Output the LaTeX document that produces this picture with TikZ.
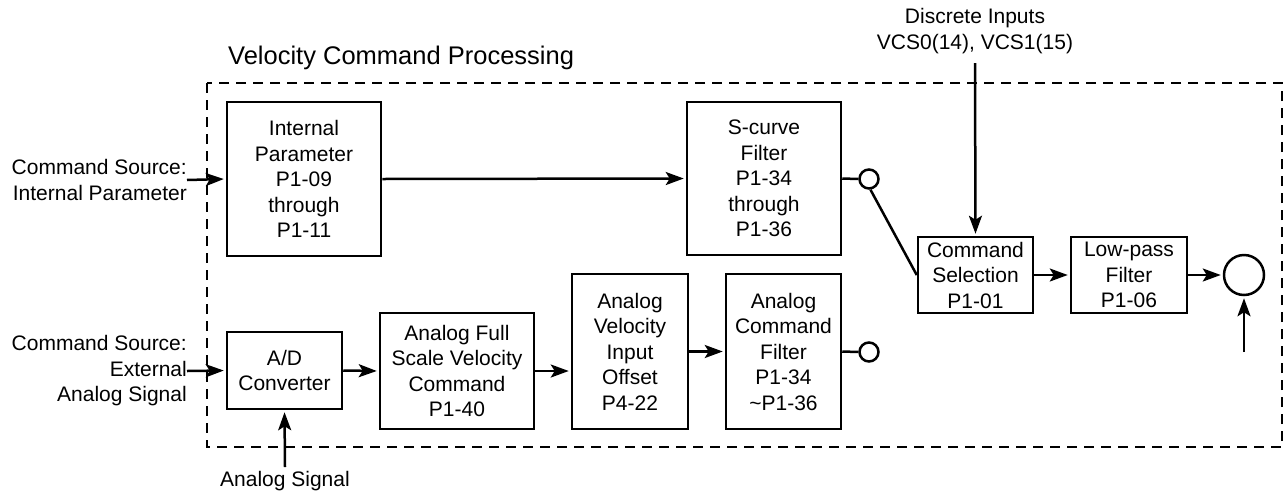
\documentclass[tikz,border=0pt]{standalone}
\usepackage{fontspec}
\setmainfont{Liberation Sans}
\usetikzlibrary{arrows.meta}
\begin{document}
\begin{tikzpicture}[x=1pt,y=-1pt,
  every node/.style={font=\fontsize{21}{25.5}\selectfont, inner sep=0pt},
  blk/.style={draw, line width=2.5pt, align=center},
  conn/.style={line width=2.5pt},
  arr/.style={line width=2.5pt, shorten >=2pt, -{Stealth[length=18pt,width=13pt,inset=4pt]}},
  sw/.style={draw, circle, line width=2.5pt, minimum size=19pt},
  frame/.style={line width=2.2pt, dash pattern=on 10pt off 7pt}]
\useasboundingbox (0,0) rectangle (1286,491);
% frame
\draw[frame] (207,83) rectangle (1282,447);
\node[anchor=west, font=\fontsize{25.5}{30}\selectfont] (title) at (228,58) {Velocity Command Processing};
% blocks
\node[blk, minimum width=154pt, minimum height=154pt] (ip) at (304,179) {Internal\\Parameter\\P1-09\\through\\P1-11};
\node[blk, minimum width=154pt, minimum height=153pt] (sc) at (764,178.5) {S-curve\\Filter\\P1-34\\through\\P1-36};
\node[blk, minimum width=115pt, minimum height=77pt] (ad) at (284.5,370.5) {A/D\\Converter};
\node[blk, minimum width=154pt, minimum height=116pt] (fs) at (457,371) {Analog Full\\Scale Velocity\\Command\\P1-40};
\node[blk, minimum width=116pt, minimum height=155pt] (off) at (630,351.5) {Analog\\Velocity\\Input\\Offset\\P4-22};
\node[blk, minimum width=115pt, minimum height=155pt] (cf) at (783.5,351.5) {Analog\\Command\\Filter\\P1-34\\\textasciitilde P1-36};
\node[blk, minimum width=115pt, minimum height=76pt] (cs) at (975.5,275) {Command\\Selection\\P1-01};
\node[blk, minimum width=116pt, minimum height=76pt] (lp) at (1129,275) {Low-pass\\Filter\\P1-06};
% switch contacts and summing circle
\node[sw] (c1) at (869,179) {};
\node[sw] (c2) at (869,352) {};
\node[draw, circle, line width=2.5pt, minimum size=40pt] (sum) at (1244,275) {};
% outer texts
\node[anchor=east, align=right] (ci) at (187,180) {Command Source:\\Internal Parameter};
\node[anchor=east, align=right] (ce) at (187,371) {Command Source:\\External\\Analog Signal};
\node[align=center] (di) at (975,31) {Discrete Inputs\\VCS0(14), VCS1(15)};
\node (as) at (285,481) {Analog Signal};
\coordinate (dtop) at (975,63);
\coordinate (astop) at (285,467);
\coordinate (sumin) at (1244,352);
% connectors
\draw[arr] (ci.east) -- (ip.west);
\draw[arr] (ce.east) -- (ad.west);
\draw[arr] (ip.east) -- (sc.west);
\draw[conn] (sc.east) -- (c1.west);
\draw[conn] (c1.south) ++(1.5,0) -- (cs.west);
\draw[arr] (ad.east) -- (fs.west);
\draw[arr] (fs.east) -- (off.west |- fs.east);
\draw[arr] (off.east) -- (cf.west);
\draw[conn] (cf.east) -- (c2.west);
\draw[arr] (dtop) -- (cs.north);
\draw[arr] (astop) -- (ad.south);
\draw[arr] (cs.east) -- (lp.west);
\draw[arr] (lp.east) -- (sum.west);
\draw[arr] (sumin) -- (sum.south);
\end{tikzpicture}
\end{document}
